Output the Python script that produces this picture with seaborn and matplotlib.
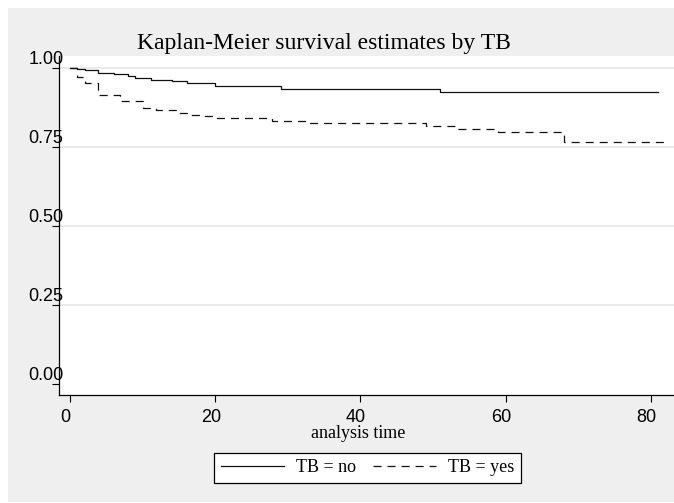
import matplotlib
matplotlib.use("Agg")
import matplotlib.pyplot as plt
import matplotlib.transforms as mtransforms
from matplotlib.patches import Rectangle
from matplotlib.font_manager import FontProperties
import pandas as pd
import seaborn as sns

# ---------------- data ----------------
title = "Kaplan-Meier survival estimates by TB"
x_label = "analysis time"
group_labels = ["TB = no", "TB = yes"]

time_no = [0, 0.9, 2.1, 3.9, 6.1, 8.0, 9.0, 11.2, 14.0, 16.1, 20.0, 29.0, 31.0, 51.0, 81.0]
surv_no = [1.000, 0.997, 0.993, 0.984, 0.980, 0.975, 0.969, 0.963, 0.958, 0.953, 0.942,
           0.935, 0.932, 0.923, 0.923]

time_yes = [0, 0.9, 2.1, 3.9, 6.9, 10.0, 11.8, 14.8, 16.5, 18.0, 19.7, 27.8, 33.0, 49.0,
            53.3, 59.0, 68.0, 81.8]
surv_yes = [1.000, 0.970, 0.953, 0.916, 0.896, 0.875, 0.866, 0.859, 0.852, 0.847, 0.842,
            0.831, 0.825, 0.816, 0.807, 0.796, 0.767, 0.767]

x_ticks = [0, 20, 40, 60, 80]
x_tick_labels = ["0", "20", "40", "60", "80"]
y_ticks = [0.00, 0.25, 0.50, 0.75, 1.00]
y_tick_labels = ["0.00", "0.25", "0.50", "0.75", "1.00"]
grid_levels = [0.25, 0.50, 0.75, 1.00]

# ---------------- figure ----------------
W, H = 674, 503
plt.rcParams["lines.scale_dashes"] = False
fig = plt.figure(figsize=(W / 100, H / 100), dpi=100, facecolor="white")
bg = Rectangle((8 / W, 1 / H), 1 - 8 / W, 1 - 9 / H,
               transform=fig.transFigure, facecolor="#efefef",
               edgecolor="none", zorder=-10)
fig.patches.append(bg)

ax = fig.add_axes([59 / W, 1 - 395 / H, 1 - 59 / W, (395 - 56) / H])
ax.set_zorder(2)
ax.set_facecolor("white")

df = pd.DataFrame({
    "time": time_no + time_yes,
    "surv": surv_no + surv_yes,
    "group": [group_labels[0]] * len(time_no) + [group_labels[1]] * len(time_yes),
})

sns.lineplot(data=df, x="time", y="surv", style="group",
             style_order=group_labels,
             dashes={group_labels[0]: "", group_labels[1]: (5.8, 4.3)},
             drawstyle="steps-post", estimator=None, sort=False,
             color="#111111", linewidth=0.9, legend=False, ax=ax, zorder=3)
curve_lines = list(ax.lines)[:2]

for lvl in grid_levels:
    ax.axhline(lvl, color="#e4e4e4", linewidth=1.1, zorder=1)

ax.set_xlim(-1.515, 83.17)
ax.set_ylim(-0.0348, 1.038)

for side in ["top", "right"]:
    ax.spines[side].set_visible(False)
for side in ["left", "bottom"]:
    ax.spines[side].set_color("black")
    ax.spines[side].set_linewidth(0.9)

tick_font = FontProperties(family="Liberation Sans", size=13)
serif = "Liberation Serif"

ax.set_xticks(x_ticks, x_tick_labels)
ax.set_yticks(y_ticks, y_tick_labels)
ax.tick_params(axis="x", direction="out", length=5, width=0.8, pad=5.0, colors="black")
ax.tick_params(axis="y", direction="out", length=5, width=0.8, pad=4.4, colors="black")
ax.set_xlabel("")
ax.set_ylabel("")

xoff = mtransforms.ScaledTranslation(-4.5 / 100, 0, fig.dpi_scale_trans)
for lab in ax.get_xticklabels():
    lab.set_fontproperties(tick_font)
    lab.set_transform(lab.get_transform() + xoff)
yoff = mtransforms.ScaledTranslation(0, 8.5 / 100, fig.dpi_scale_trans)
for lab in ax.get_yticklabels():
    lab.set_fontproperties(tick_font)
    lab.set_horizontalalignment("center")
    lab.set_verticalalignment("center")
    lab.set_transform(lab.get_transform() + yoff)
    lab.set_zorder(5)
    lab.set_clip_on(False)

fig.text(324 / W, 1 - 48.5 / H, title, ha="center", va="baseline",
         family=serif, fontsize=17, color="black")
fig.text(358 / W, 1 - 438.5 / H, x_label, ha="center", va="baseline",
         family=serif, fontsize=13, color="black")

leg = fig.legend(curve_lines, group_labels, loc="center",
                 bbox_to_anchor=(367.5 / W, 1 - 468 / H), ncol=2,
                 frameon=True, fancybox=False, edgecolor="black", facecolor="white",
                 framealpha=1, prop=FontProperties(family=serif, size=13),
                 handlelength=3.5, handletextpad=0.66, columnspacing=0.94,
                 borderpad=0.35, borderaxespad=0)
leg.get_frame().set_linewidth(0.9)

fig.savefig("out.png", dpi=100, facecolor=fig.get_facecolor())
